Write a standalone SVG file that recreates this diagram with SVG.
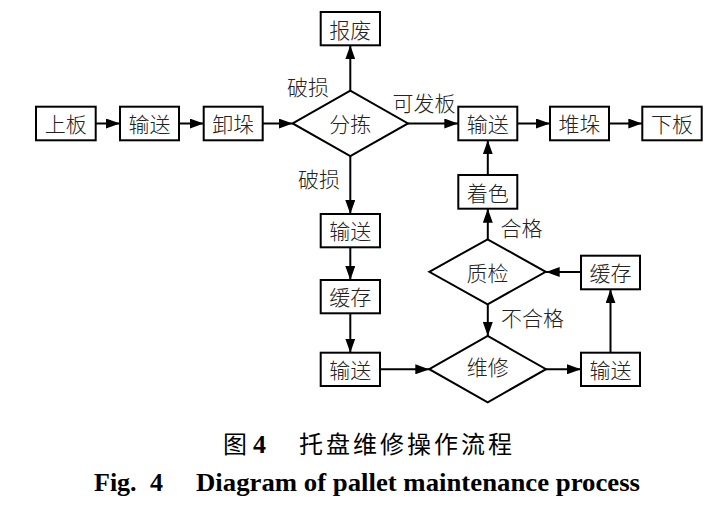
<svg xmlns="http://www.w3.org/2000/svg" width="720" height="510" viewBox="0 0 720 510">
<style>
.box{fill:#fff;stroke:#000;stroke-width:2}
.t{font-family:"Noto Sans CJK SC","Noto Sans CJK JP",sans-serif;font-size:21px;font-weight:300;fill:#222;text-anchor:middle;dominant-baseline:central}
.ln{fill:none;stroke:#000;stroke-width:2;marker-end:url(#ah)}
.cap{font-family:"Noto Sans CJK SC",sans-serif;font-size:24px;fill:#000}
.en{font-family:"Liberation Serif","Times New Roman",serif;font-weight:bold;font-size:26px;fill:#000}
</style>
<defs>
<marker id="ah" viewBox="0 0 14 10" refX="14" refY="5" markerWidth="14" markerHeight="10" markerUnits="userSpaceOnUse" orient="auto">
<path d="M0,0 L14,5 L0,10 Z" fill="#000"/>
</marker>
</defs>
<rect width="720" height="510" fill="#fff"/>
<g id="connectors">
<line class="ln" x1="96" y1="123.5" x2="120" y2="123.5"/>
<line class="ln" x1="179" y1="123.5" x2="203.7" y2="123.5"/>
<line class="ln" x1="262.7" y1="123.5" x2="292.7" y2="123.5"/>
<line class="ln" x1="350.3" y1="90.7" x2="350.3" y2="45.3"/>
<line class="ln" x1="408" y1="123.5" x2="458.3" y2="123.5"/>
<line class="ln" x1="517.3" y1="123.5" x2="550" y2="123.5"/>
<line class="ln" x1="609" y1="123.5" x2="642.3" y2="123.5"/>
<line class="ln" x1="487.8" y1="175" x2="487.8" y2="140.3"/>
<line class="ln" x1="487.8" y1="239.3" x2="487.8" y2="208.7"/>
<line class="ln" x1="581" y1="272" x2="545.7" y2="272"/>
<line class="ln" x1="487.8" y1="304.3" x2="487.8" y2="336"/>
<line class="ln" x1="546" y1="369.3" x2="581" y2="369.3"/>
<line class="ln" x1="610.5" y1="352.7" x2="610.5" y2="289.3"/>
<line class="ln" x1="350.3" y1="156" x2="350.3" y2="214"/>
<line class="ln" x1="350.3" y1="247.3" x2="350.3" y2="280"/>
<line class="ln" x1="350.3" y1="313.3" x2="350.3" y2="352.7"/>
<line class="ln" x1="380" y1="369.3" x2="429.3" y2="369.3"/>
</g>
<g id="n-shangban"><rect class="box" x="36" y="106.7" width="59.7" height="33.6"/><text class="t" x="65.8" y="123">上板</text></g>
<g id="n-shusong1"><rect class="box" x="120" y="106.7" width="59" height="33.6"/><text class="t" x="149.5" y="123">输送</text></g>
<g id="n-xieduo"><rect class="box" x="203.7" y="106.7" width="59" height="33.6"/><text class="t" x="233.2" y="123">卸垛</text></g>
<g id="n-fenjian"><polygon class="box" points="292.7,123.4 350.3,90.7 408,123.4 350.3,156"/><text class="t" x="350.3" y="123">分拣</text></g>
<g id="n-baofei"><rect class="box" x="320.7" y="12" width="59.3" height="33.3"/><text class="t" x="350.3" y="28.5">报废</text></g>
<g id="n-shusong2"><rect class="box" x="458.3" y="106.7" width="59" height="33.6"/><text class="t" x="487.8" y="123">输送</text></g>
<g id="n-duiduo"><rect class="box" x="550" y="106.7" width="59" height="33.6"/><text class="t" x="579.5" y="123">堆垛</text></g>
<g id="n-xiaban"><rect class="box" x="642.3" y="106.7" width="59.4" height="33.6"/><text class="t" x="672" y="123">下板</text></g>
<g id="n-zhuose"><rect class="box" x="458.3" y="175" width="59" height="33.7"/><text class="t" x="487.8" y="191.5">着色</text></g>
<g id="n-zhijian"><polygon class="box" points="429.3,271.8 487.6,239.3 545.7,271.8 487.6,304.3"/><text class="t" x="487.6" y="271.5">质检</text></g>
<g id="n-huancun2"><rect class="box" x="581" y="255.7" width="59" height="33.6"/><text class="t" x="610.5" y="272">缓存</text></g>
<g id="n-shusong3"><rect class="box" x="320.7" y="214" width="59.3" height="33.3"/><text class="t" x="350.3" y="230.3">输送</text></g>
<g id="n-huancun1"><rect class="box" x="320.7" y="280" width="59.3" height="33.3"/><text class="t" x="350.3" y="296.3">缓存</text></g>
<g id="n-shusong4"><rect class="box" x="320.7" y="352.7" width="59.3" height="33.3"/><text class="t" x="350.3" y="369">输送</text></g>
<g id="n-weixiu"><polygon class="box" points="429.3,369.2 487.7,336 546,369.2 487.7,402.3"/><text class="t" x="487.7" y="366">维修</text></g>
<g id="n-shusong5"><rect class="box" x="581" y="352.7" width="59" height="33.3"/><text class="t" x="610.5" y="369">输送</text></g>
<g id="labels">
<text class="t" x="308" y="86">破损</text>
<text class="t" x="319" y="178">破损</text>
<text class="t" x="424" y="101.5">可发板</text>
<text class="t" x="521.5" y="227">合格</text>
<text class="t" x="532.5" y="316.5">不合格</text>
</g>
<g id="caption">
<text class="cap" x="223" y="453">图</text>
<text class="en" x="253" y="453" font-size="24">4</text>
<text class="cap" x="299" y="453" textLength="213" lengthAdjust="spacing">托盘维修操作流程</text>
<text class="en" x="94" y="491">Fig.</text>
<text class="en" x="150" y="491">4</text>
<text class="en" x="196" y="491" textLength="444" lengthAdjust="spacingAndGlyphs">Diagram of pallet maintenance process</text>
</g>
</svg>
